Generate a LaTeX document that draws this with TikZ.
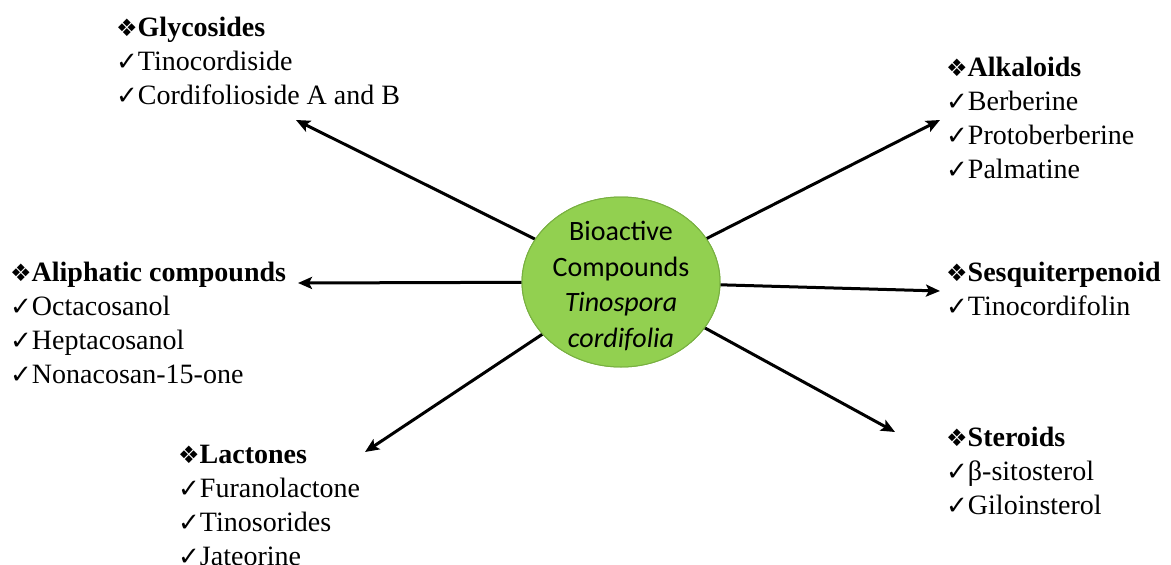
\documentclass[tikz,border=0pt]{standalone}
\usepackage{fontspec}
\setmainfont{Liberation Serif}
\newfontfamily\symfont{DejaVu Sans}
\newfontfamily\calfont{Carlito}
\usetikzlibrary{arrows.meta,shapes.geometric}
\definecolor{ellgreen}{HTML}{92D050}
\definecolor{ellline}{HTML}{78B040}
\newcommand{\dia}{{\symfont\fontsize{24}{24}\selectfont\char"2756}}
\newcommand{\ck}{{\symfont\fontsize{26}{26}\selectfont\char"2713}}
\tikzset{
  blk/.style={anchor=base west, inner sep=0pt, align=left, font=\fontsize{28}{34}\selectfont},
  arr/.style={-{Stealth[length=14pt,width=12pt,inset=3pt]}, line width=3pt, black},
  ell/.style={ellipse, fill=ellgreen, draw=ellline, line width=1pt, minimum width=198pt, minimum height=170pt, inner sep=0pt},
  ctext/.style={align=center, inner sep=0pt, font=\calfont\fontsize{28}{35.5}\selectfont}
}
\begin{document}
\begin{tikzpicture}[x=1pt,y=-1pt]
\useasboundingbox (0,0) rectangle (1171,565);
% heads
\coordinate (hG) at (296,120);
\coordinate (hA) at (940,120);
\coordinate (hL) at (298,283);
\coordinate (hS) at (940,291);
\coordinate (hLa) at (365,452);
\coordinate (hSt) at (895,432);
\node[ell] (c) at (621,282) {};
\draw[arr] (c) -- (hG);
\draw[arr] (c) -- (hA);
\draw[arr] (c) -- (hL);
\draw[arr] (c) -- (hS);
\draw[arr] (c) -- (hLa);
\draw[arr] (c) -- (hSt);
\node[ell] (c2) at (621,282) {};
\node[ctext] (ct) at (621,286) {Bioactive\\Compounds\\\textit{Tinospora}\\\textit{cordifolia}};
\node[blk] (gly) at (116,104) {\dia\textbf{Glycosides}\\\ck Tinocordiside\\\ck Cordifolioside A and B};
\node[blk] (alk) at (946,178) {\dia\textbf{Alkaloids}\\\ck Berberine\\\ck Protoberberine\\\ck Palmatine};
\node[blk] (ali) at (10,383) {\dia\textbf{Aliphatic compounds}\\\ck Octacosanol\\\ck Heptacosanol\\\ck Nonacosan-15-one};
\node[blk] (ses) at (946,315) {\dia\textbf{Sesquiterpenoid}\\\ck Tinocordifolin};
\node[blk] (lac) at (178,565) {\dia\textbf{Lactones}\\\ck Furanolactone\\\ck Tinosorides\\\ck Jateorine};
\node[blk] (ste) at (946,514) {\dia\textbf{Steroids}\\\ck β-sitosterol\\\ck Giloinsterol};
\end{tikzpicture}
\end{document}
